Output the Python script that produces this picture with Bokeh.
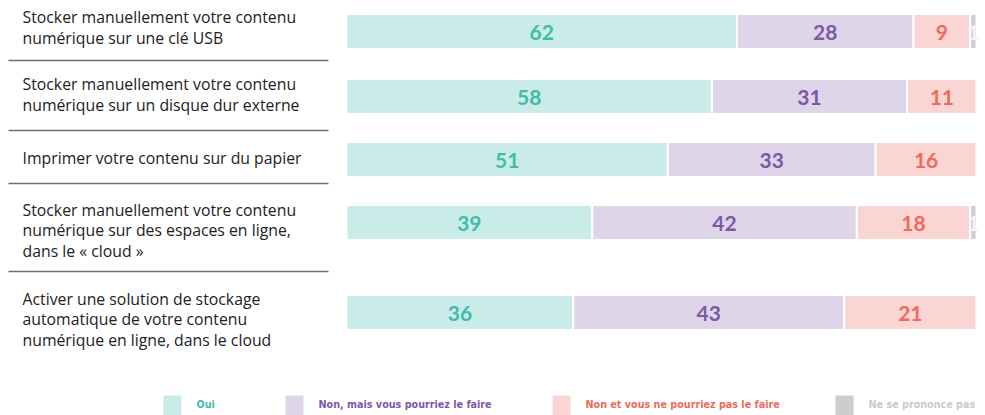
from bokeh.plotting import figure
from bokeh.models import Range1d
from bokeh.core.properties import value
from bokeh.embed import file_html
from bokeh.resources import INLINE

# ---------------- data ----------------
questions = [
    "Stocker manuellement votre contenu\nnumérique sur une clé USB",
    "Stocker manuellement votre contenu\nnumérique sur un disque dur externe",
    "Imprimer votre contenu sur du papier",
    "Stocker manuellement votre contenu\nnumérique sur des espaces en ligne,\ndans le « cloud »",
    "Activer une solution de stockage\nautomatique de votre contenu\nnumérique en ligne, dans le cloud",
]
oui = [62, 58, 51, 39, 36]
non_mais = [28, 31, 33, 42, 43]
non_pas = [9, 11, 16, 18, 21]
nsp = [1, 0, 0, 1, 0]
series_names = ["Oui", "Non, mais vous pourriez le faire",
                "Non et vous ne pourriez pas le faire", "Ne se prononce pas"]

# ---------------- style / layout ----------------
bar_colors = ["#c9ece8", "#ded5e8", "#f9d6d3", "#cdcdcd"]
text_colors = ["#3fbcab", "#7d58a6", "#ee6a5c", "#f4f4f4"]
legend_text_colors = ["#3fbcab", "#7d58a6", "#ee6a5c", "#c9c9c9"]

W, H = 985, 415
px_per_unit = 6.3
bar_left_px = 346
x_start = -bar_left_px / px_per_unit
x_end = x_start + W / px_per_unit

bar_y = [31, 96, 159, 222, 312]
label_y = [27, 94, 157, 230, 319]
sep_y = [60, 130, 183, 271]
bar_h = 35

def px2x(px):
    return x_start + px / px_per_unit

p = figure(width=W, height=H, output_backend="svg", toolbar_location=None,
           x_range=Range1d(x_start, x_end), y_range=Range1d(H, 0),
           min_border=0)
p.axis.visible = False
p.grid.visible = False
p.outline_line_color = None
p.background_fill_color = "white"

series = [oui, non_mais, non_pas, nsp]
left = [0] * len(questions)
for k, vals in enumerate(series):
    right = [l + v for l, v in zip(left, vals)]
    idx = [i for i, v in enumerate(vals) if v > 0]
    p.hbar(y=[bar_y[i] for i in idx], left=[left[i] for i in idx],
           right=[right[i] for i in idx], height=bar_h,
           fill_color=bar_colors[k], line_color="white", line_width=2)
    p.text(x=[(left[i] + right[i]) / 2 for i in idx],
           y=[bar_y[i] + 1 for i in idx],
           text=[str(vals[i]) for i in idx],
           text_font=value("Lato"), text_font_style="bold",
           text_font_size="21px", text_color=text_colors[k],
           text_align="center", text_baseline="middle")
    left = right

# question labels
p.text(x=[px2x(22)] * len(questions), y=label_y, text=questions,
       text_font=value("Open Sans"), text_font_size="15.8px", text_color="#222222",
       text_align="left", text_baseline="middle", text_line_height=0.93)

# separators
p.segment(x0=[px2x(8)] * len(sep_y), x1=[px2x(328)] * len(sep_y),
          y0=sep_y, y1=sep_y, line_color="#6e6e6e", line_width=1.5)

# legend (manual)
leg_sq_px = [163, 285, 552, 835]
leg_y = 405
for k, name in enumerate(series_names):
    p.rect(x=[px2x(leg_sq_px[k] + 9)], y=[leg_y], width=18 / px_per_unit,
           height=20, fill_color=bar_colors[k], line_color=None)
    p.text(x=[px2x(leg_sq_px[k] + 33)], y=[leg_y - 1], text=[name],
           text_font=value("'DejaVu Sans Condensed', 'Roboto'"), text_font_style="bold",
           text_font_size="10.7px", text_color=legend_text_colors[k],
           text_align="left", text_baseline="middle")

open("out.html", "w").write(file_html(p, INLINE))
